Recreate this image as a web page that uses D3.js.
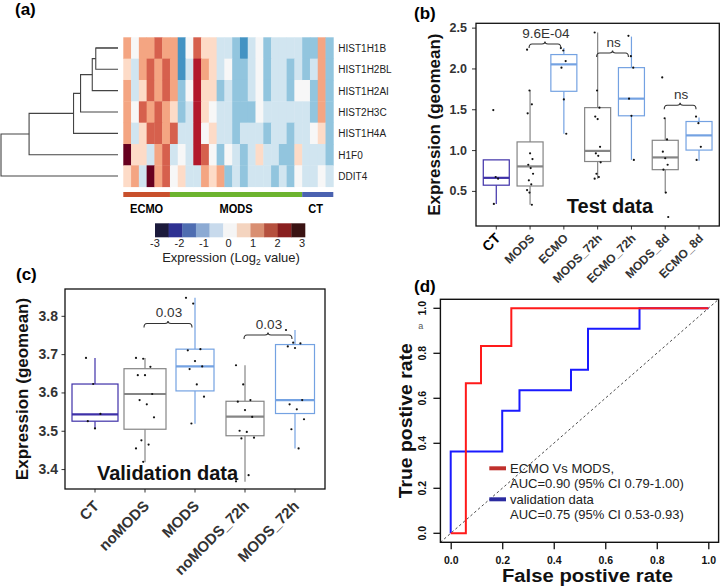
<!DOCTYPE html>
<html><head><meta charset="utf-8">
<script src="https://cdn.jsdelivr.net/npm/d3@7"></script>
<style>
body{margin:0;background:#fff}
svg{display:block;font-family:"Liberation Sans",Arial,Helvetica,sans-serif}
</style>
</head><body>
<svg id="fig" width="727" height="586"></svg>
<script>
// ===================== DATA =====================
// (a) heatmap: log2 expression, rows = genes, columns = samples
const genes = ["HIST1H1B","HIST1H2BL","HIST1H2AI","HIST2H3C","HIST1H4A","H1F0","DDIT4"];
const heatHIST1H1B  = [1.2,0,1.2,1.2,1.8,1.2,1.2,-1.8,0,1.8,0.6,0.6,-0.6,-0.6,-1.2,-1.8,-0.6,0,-1.2,-0.6,-0.6,-0.6,-0.6,-1.2,-1.2,1.2,-1.2];
const heatHIST1H2BL = [0.6,-0.6,1.2,1.8,1.2,1.8,1.2,-1.8,-0.6,2.4,1.2,0.6,-0.6,0,-1.2,-1.2,-0.6,0,-1.2,-0.6,-0.6,-1.2,-0.6,-1.2,-0.6,1.2,-1.2];
const heatHIST1H2AI = [1.2,-0.6,0.6,1.8,1.2,1.8,1.2,-1.2,0,2.4,0.6,0.6,-1.2,-0.6,-1.2,-1.2,-0.6,0,-1.2,-0.6,-0.6,-1.2,0,0,-1.2,1.2,-1.2];
const heatHIST2H3C  = [1.2,0,1.8,1.2,1.8,1.2,0.6,-1.2,-0.6,2.4,0.6,0,-0.6,-0.6,-1.2,-1.2,-1.2,0,-0.6,-0.6,-0.6,-0.6,-0.6,-0.6,-1.2,1.2,-1.2];
const heatHIST1H4A  = [1.2,-0.6,0.6,1.8,1.8,1.2,1.8,-0.6,-0.6,2.4,0,0.6,-0.6,-0.6,-1.2,-0.6,-0.6,-0.6,-1.2,-0.6,-0.6,-1.2,-0.6,-0.6,0,0.6,-1.2];
const heatH1F0      = [3.0,0.6,0.6,-0.6,1.2,1.8,-0.6,0,-0.6,2.4,1.8,0,-1.2,0,-0.6,-1.2,-0.6,0.6,-0.6,-0.6,-1.2,-1.2,0.6,-0.6,-0.6,-0.6,-1.2];
const heatDDIT4     = [0.6,1.2,-0.6,3.0,1.2,1.8,0,0.6,-0.6,-0.6,1.2,0.6,1.2,-1.2,-0.6,-1.2,-0.6,-0.6,-0.6,-1.2,-0.6,-1.2,0,-0.6,-0.6,0,-0.6];
const sampleGroups = ["ECMO","MODS","CT"];
const sampleGroupSizes = [6,17,4];
// dendrogram: successive merges (leaf order), merge heights (relative)
const dendroMergeHeights = [0.19,0.22,0.32,0.38,0.76,1.0];
const legendTicks = [-3,-2,-1,0,1,2,3];

// (b) test data
const bCats = ["CT","MODS","ECMO","MODS_72h","ECMO_72h","MODS_8d","ECMO_8d"];
const bLow  = [0.34,0.33,1.20,0.65,0.88,0.47,0.87];
const bQ1   = [0.57,0.56,1.72,0.86,1.42,0.76,1.00];
const bMed  = [0.66,0.80,2.05,0.99,1.63,0.91,1.18];
const bQ3   = [0.88,1.10,2.17,1.52,2.01,1.12,1.35];
const bHigh = [0.88,1.73,2.25,2.44,2.39,1.38,1.40];
const bPoints = [
  [1.49,0.67,0.65,0.34],
  [2.23,1.73,1.56,1.45,0.96,0.89,0.82,0.78,0.71,0.63,0.58,0.51,0.48,0.33],
  [2.25,2.22,2.09,2.01,1.62,1.20],
  [2.44,1.73,1.52,1.41,1.38,1.04,0.96,0.93,0.85,0.71,0.67,0.65],
  [2.40,2.15,2.01,1.63,1.42,0.88],
  [1.89,1.39,1.13,0.98,0.90,0.82,0.76,0.48,0.18],
  [1.41,1.33,1.04,0.88]
];
const bYTicks = [0.5,1.0,1.5,2.0,2.5];
const bSig = [{a:"MODS",b:"ECMO",label:"9.6E-04",y:2.30},{a:"MODS_72h",b:"ECMO_72h",label:"ns",y:2.19},{a:"MODS_8d",b:"ECMO_8d",label:"ns",y:1.55}];

// (c) validation data
const cCats = ["CT","noMODS","MODS","noMODS_72h","MODS_72h"];
const cLow  = [3.505,3.418,3.518,3.367,3.454];
const cQ1   = [3.525,3.504,3.604,3.487,3.545];
const cMed  = [3.543,3.596,3.668,3.537,3.580];
const cQ3   = [3.622,3.662,3.713,3.577,3.725];
const cHigh = [3.690,3.690,3.847,3.671,3.763];
const cPoints = [
  [3.690,3.622,3.544,3.525,3.506],
  [3.690,3.688,3.667,3.645,3.645,3.596,3.580,3.569,3.535,3.475,3.464,3.454,3.419],
  [3.847,3.832,3.713,3.710,3.682,3.668,3.661,3.621,3.589,3.519],
  [3.671,3.621,3.580,3.576,3.554,3.536,3.500,3.497,3.482,3.480,3.384,3.368],
  [3.763,3.730,3.728,3.720,3.716,3.580,3.569,3.556,3.530,3.504,3.454]
];
const cYTicks = [3.4,3.5,3.6,3.7,3.8];
const cSig = [{a:"noMODS",b:"MODS",label:"0.03",y:3.780},{a:"noMODS_72h",b:"MODS_72h",label:"0.03",y:3.750}];

// (d) ROC curves
const rocEcmoFPR = [0,0.0588,0.0588,0.1176,0.1176,0.2353,0.2353,1];
const rocEcmoTPR = [0,0,0.667,0.667,0.833,0.833,1,1];
const rocValFPR  = [0,0,0.2,0.2,0.267,0.267,0.467,0.467,0.533,0.533,0.733,0.733,1];
const rocValTPR  = [0,0.364,0.364,0.545,0.545,0.636,0.636,0.727,0.727,0.909,0.909,1,1];
const rocTicks = [0,0.2,0.4,0.6,0.8,1.0];
const rocLegend = ["ECMO Vs MODS,","AUC=0.90 (95% CI 0.79-1.00)","validation data","AUC=0.75 (95% CI 0.53-0.93)"];

// ===================== STYLES =====================
const heatRows = [heatHIST1H1B,heatHIST1H2BL,heatHIST1H2AI,heatHIST2H3C,heatHIST1H4A,heatH1F0,heatDDIT4];
const heatColors = d3.schemeRdBu[11].slice().reverse();
const legendColors = ["#1b1a3c","#2e3192","#4e6db1","#8caad3","#c8daec","#f5f5f5","#f4d4bf","#d98f72","#b5503e","#891f1f","#3a1313"];
const groupColors = ["#c8502c","#6db42f","#4a62b0"];
const catColor = {CT:"#3e30a8",MODS:"#858585",ECMO:"#74a2e2",MODS_72h:"#858585",ECMO_72h:"#74a2e2",MODS_8d:"#858585",ECMO_8d:"#74a2e2"};
const cColor = {CT:"#3e30a8",noMODS:"#858585",MODS:"#74a2e2",noMODS_72h:"#858585",MODS_72h:"#74a2e2"};

const svg = d3.select("#fig");

// panel labels
[["(a)",15,15],["(b)",414,19],["(c)",16,280],["(d)",414,292]].forEach(([t,x,y])=>{
  svg.append("text").attr("x",x).attr("y",y).attr("font-size",17).attr("font-weight","bold").text(t);
});

// ===================== (a) HEATMAP =====================
const nCols = heatRows[0].length;
const hx = d3.scaleBand().domain(d3.range(nCols)).range([123.3,333.3]);
const hy = d3.scaleBand().domain(genes).range([37.3,186.7]);
const hColor = d3.scaleQuantize().domain([-3.3,3.3]).range(heatColors);
const gA = svg.append("g");
heatRows.forEach((row,ri)=>{
  gA.selectAll(null).data(row).join("rect")
    .attr("x",(d,i)=>hx(i)).attr("y",hy(genes[ri]))
    .attr("width",hx.bandwidth()+0.4).attr("height",hy.bandwidth()+0.4)
    .attr("fill",d=>hColor(d));
});
gA.selectAll(".gl").data(genes).join("text")
  .attr("x",338.3).attr("y",d=>hy(d)+hy.bandwidth()/2+4)
  .attr("font-size",10).attr("fill","#222").text(d=>d);

// dendrogram
const dx = d3.scaleLinear().domain([0,1]).range([118,1]);
let cur = {x:dx(0), y:hy(genes[0])+hy.bandwidth()/2};
const dg = gA.append("g").attr("stroke","#444").attr("stroke-width",1.1).attr("fill","none");
dendroMergeHeights.forEach((h,i)=>{
  const leafY = hy(genes[i+1])+hy.bandwidth()/2;
  const mx = dx(h);
  dg.append("path").attr("d",`M${cur.x},${cur.y}H${mx}V${leafY}H${dx(0)}`);
  cur = {x:mx, y:(cur.y+leafY)/2};
});
dg.append("path").attr("d",`M${dx(0)},${hy(genes[0])+hy.bandwidth()/2}H${dx(dendroMergeHeights[0])}`);

// group bar
let acc = 0;
sampleGroups.forEach((g,i)=>{
  const x0 = hx(acc), x1 = hx(acc+sampleGroupSizes[i]-1)+hx.bandwidth();
  gA.append("rect").attr("x",x0).attr("y",192).attr("width",x1-x0).attr("height",5).attr("fill",groupColors[i]);
  const cxg = (x0+x1)/2 + (i==2?-2:0);
  gA.append("text").attr("transform",`translate(${cxg},213) scale(0.82,1)`).attr("text-anchor","middle")
    .attr("font-weight","bold").attr("font-size",13.5).text(g);
  acc += sampleGroupSizes[i];
});

// color key
const lx = d3.scaleBand().domain(d3.range(legendColors.length)).range([155,305]);
gA.selectAll(".lk").data(legendColors).join("rect")
  .attr("x",(d,i)=>lx(i)).attr("y",223.3).attr("width",lx.bandwidth()+0.3).attr("height",14).attr("fill",d=>d);
const lt = d3.scaleLinear().domain([-3,3]).range([155,302]);
gA.selectAll(".lt").data(legendTicks).join("text")
  .attr("x",d=>lt(d)).attr("y",246.5).attr("text-anchor","middle").attr("font-size",11).attr("fill","#222")
  .text(d=>d<0?"-"+Math.abs(d):d);
const kt = gA.append("text").attr("x",231).attr("y",261.5).attr("text-anchor","middle").attr("font-size",13).attr("fill","#222");
kt.append("tspan").text("Expression (Log");
kt.append("tspan").attr("font-size",8.5).attr("dy",3).text("2");
kt.append("tspan").attr("dy",-3).text(" value)");

// ===================== BOX PLOT HELPER =====================
function boxPanel(o){
  const g = svg.append("g");
  const x = d3.scalePoint().domain(o.cats).range([o.left,o.right]).padding(0.6);
  const y = d3.scaleLinear().domain(o.ydom).range([o.bottom,o.top]);
  const ya = g.append("g").attr("transform",`translate(${o.left},0)`)
    .call(d3.axisLeft(y).tickValues(o.yticks).tickFormat(d3.format(".1f")).tickSize(o.tick).tickPadding(o.pad));
  ya.select(".domain").remove();
  ya.selectAll("line").attr("stroke","#333");
  ya.selectAll("text").attr("font-size",o.yfs).attr("font-weight","bold").attr("fill","#333").attr("font-family","'Liberation Sans',Arial,sans-serif");
  g.selectAll(".xt").data(o.cats).join("line")
    .attr("x1",d=>x(d)).attr("x2",d=>x(d)).attr("y1",o.bottom).attr("y2",o.bottom+3.5).attr("stroke","#333");
  g.selectAll(".xl").data(o.cats).join("text")
    .attr("transform",d=>`translate(${x(d)+5},${o.bottom+o.xlo}) rotate(-45)`)
    .attr("text-anchor","end").attr("font-weight","bold")
    .attr("font-size",d=>o.xfs(d)).attr("fill",d=>o.xfill(d)).text(d=>d);
  o.cats.forEach((c,i)=>{
    const col = o.color[c], cx = x(c), w = o.bw(i);
    g.append("line").attr("x1",cx).attr("x2",cx).attr("y1",y(o.low[i])).attr("y2",y(o.q1[i])).attr("stroke",col).attr("stroke-width",1.2);
    g.append("line").attr("x1",cx).attr("x2",cx).attr("y1",y(o.q3[i])).attr("y2",y(o.high[i])).attr("stroke",col).attr("stroke-width",1.2);
    g.append("rect").attr("x",cx-w/2).attr("y",y(o.q3[i])).attr("width",w).attr("height",y(o.q1[i])-y(o.q3[i]))
      .attr("fill","white").attr("stroke",col).attr("stroke-width",1.2);
    g.append("line").attr("x1",cx-w/2).attr("x2",cx+w/2).attr("y1",y(o.med[i])).attr("y2",y(o.med[i])).attr("stroke",col).attr("stroke-width",2.2);
    g.selectAll(null).data(o.points[i]).join("circle")
      .attr("cx",(d,k)=>cx + (((k*37+i*11)%11)-5)/5*o.jit)
      .attr("cy",d=>y(d)).attr("r",1.1).attr("fill","#111");
  });
  o.sig.forEach(s=>{
    const xa = x(s.a)-1, xb = x(s.b)-3, yy = y(s.y), xm=(xa+xb)/2;
    g.append("path").attr("fill","none").attr("stroke","#333").attr("stroke-width",1.1)
      .attr("d",`M${xa},${yy+4}Q${xa},${yy} ${xa+3},${yy}L${xm-3},${yy}Q${xm},${yy} ${xm},${yy-2.5}Q${xm},${yy} ${xm+3},${yy}L${xb-3},${yy}Q${xb},${yy} ${xb},${yy+4}`);
    g.append("text").attr("x",xm+1).attr("y",yy-6).attr("text-anchor","middle").attr("font-size",13.5).attr("fill","#333").text(s.label);
  });
  g.append("rect").attr("x",o.left).attr("y",o.top).attr("width",o.right-o.left).attr("height",o.bottom-o.top)
    .attr("fill","none").attr("stroke","#111").attr("stroke-width",1.3);
  g.append("text").attr("transform",`translate(${o.ytx},${(o.top+o.bottom)/2}) rotate(-90)`)
    .attr("text-anchor","middle").attr("font-size",17).attr("font-weight","bold").attr("fill","#111").text("Expression (geomean)");
  g.append("text").attr("x",o.inX).attr("y",o.inY).attr("text-anchor","middle").attr("font-size",20).attr("font-weight","bold").attr("fill","#111").text(o.inLabel);
  return {x,y};
}

// ===================== (b) =====================
boxPanel({cats:bCats,left:476,right:719.3,top:23.3,bottom:226,ydom:[0.07,2.553],yticks:bYTicks,tick:4,pad:5,yfs:12.5,
  xfs:d=>d==="CT"?14:12, xfill:d=>d==="CT"?"#000":"#333", xlo:13,
  low:bLow,q1:bQ1,med:bMed,q3:bQ3,high:bHigh,points:bPoints,color:catColor,bw:()=>26,jit:3,
  sig:bSig,ytx:440,inX:610,inY:213,inLabel:"Test data"});

// ===================== (c) =====================
boxPanel({cats:cCats,left:65,right:325,top:289,bottom:489,ydom:[3.348,3.870],yticks:cYTicks,tick:3.5,pad:3.5,yfs:14,
  xfs:()=>15, xfill:()=>"#333", xlo:18,
  low:cLow,q1:cQ1,med:cMed,q3:cQ3,high:cHigh,points:cPoints,color:cColor,bw:i=>[46,42,38,38,39][i],jit:9,
  sig:cSig,ytx:28,inX:167.5,inY:480,inLabel:"Validation data"});

// ===================== (d) ROC =====================
const gD = svg.append("g");
const rx = d3.scaleLinear().domain([-0.04,1.04]).range([440.4,718.6]);
const ry = d3.scaleLinear().domain([-0.04,1.04]).range([542.3,299.3]);
gD.append("line").attr("x1",rx(-0.04)).attr("y1",ry(-0.04)).attr("x2",rx(1.04)).attr("y2",ry(1.04))
  .attr("stroke","#333").attr("stroke-width",0.9).attr("stroke-dasharray","2.5,2.5");
const line = d3.line().x(d=>rx(d[0])).y(d=>ry(d[1]));
gD.append("path").attr("d",line(rocValFPR.map((f,i)=>[f,rocValTPR[i]]))).attr("fill","none").attr("stroke","#1a1aff").attr("stroke-width",2);
gD.append("path").attr("d",line(rocEcmoFPR.map((f,i)=>[f,rocEcmoTPR[i]]))).attr("fill","none").attr("stroke","#ff1a1a").attr("stroke-width",2);
gD.append("rect").attr("x",440.4).attr("y",299.3).attr("width",278.2).attr("height",243)
  .attr("fill","none").attr("stroke","#111").attr("stroke-width",1.4);
const xa = gD.append("g").attr("transform","translate(0,542.3)")
  .call(d3.axisBottom(rx).tickValues(rocTicks).tickFormat(d3.format(".1f")).tickSize(7).tickPadding(7));
xa.select(".domain").remove();
xa.selectAll("line").attr("stroke","#111").attr("stroke-width",1.3);
xa.selectAll("text").attr("font-size",10.5).attr("font-weight","bold").attr("fill","#111").attr("font-family","'Liberation Sans',Arial,sans-serif");
gD.selectAll(".yt").data(rocTicks).join("line").attr("x1",433.4).attr("x2",440.4).attr("y1",d=>ry(d)).attr("y2",d=>ry(d)).attr("stroke","#111").attr("stroke-width",1.3);
gD.selectAll(".yl").data(rocTicks).join("text")
  .attr("transform",d=>`translate(425.5,${ry(d)}) rotate(-90)`).attr("text-anchor","middle")
  .attr("font-size",10.5).attr("font-weight","bold").attr("fill","#111").text(d3.format(".1f"));
gD.append("text").attr("x",420.7).attr("y",329).attr("text-anchor","middle").attr("font-size",9).attr("fill","#555").text("a");
gD.append("text").attr("transform",`translate(412,420.8) rotate(-90)`).attr("text-anchor","middle")
  .attr("font-size",18).attr("font-weight","bold").attr("fill","#111")
  .attr("textLength",155).attr("lengthAdjust","spacingAndGlyphs").text("True postive rate");
gD.append("text").attr("x",587.5).attr("y",581.5).attr("text-anchor","middle")
  .attr("font-size",17.5).attr("font-weight","bold").attr("fill","#111")
  .attr("textLength",171).attr("lengthAdjust","spacingAndGlyphs").text("False postive rate");
const legColors = ["#c0302c","#2b2ba0"];
[[468.3,0],[499.3,1]].forEach(([yy,i])=>{
  gD.append("line").attr("x1",489.3).attr("x2",506).attr("y1",yy).attr("y2",yy).attr("stroke",legColors[i]).attr("stroke-width",4);
});
[472.5,488.3,503.5,518.5].forEach((yy,i)=>{
  gD.append("text").attr("x",510).attr("y",yy).attr("font-size",13).attr("fill","#222").text(rocLegend[i]);
});
</script>
</body></html>
